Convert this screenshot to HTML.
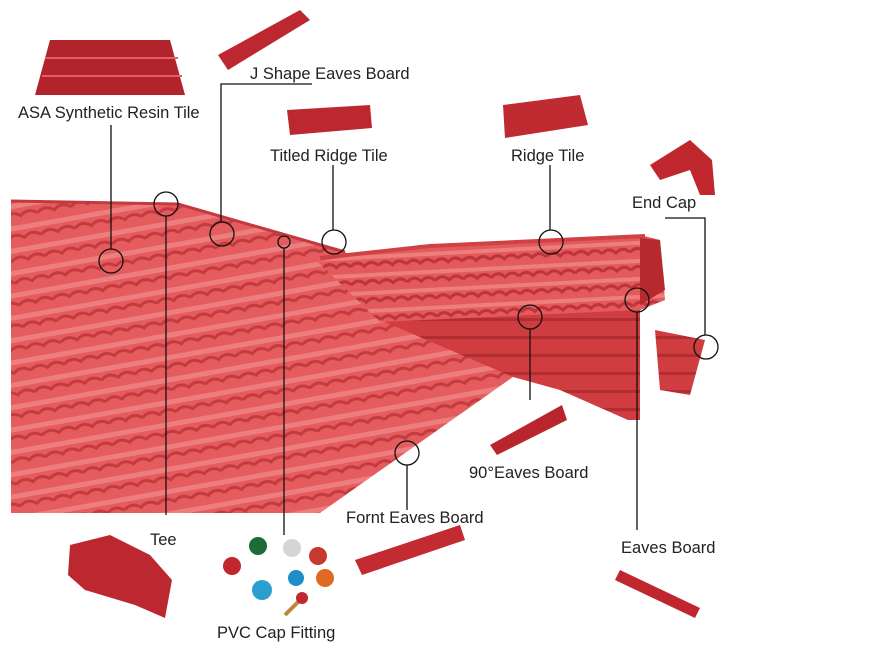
<!DOCTYPE html>
<html><head><meta charset="utf-8"><style>
html,body{margin:0;padding:0;background:#fff;width:884px;height:654px;overflow:hidden}
svg{display:block}
text{font-family:"Liberation Sans",sans-serif;font-size:16.5px;fill:#222}
</style></head><body>
<svg width="884" height="654" viewBox="0 0 884 654" xmlns="http://www.w3.org/2000/svg">
<defs>
<pattern id="tl" width="34" height="22" patternUnits="userSpaceOnUse" patternTransform="rotate(-10)">
<rect width="34" height="22" fill="#e55c5e"/>
<path d="M0 18 Q8 11 17 18 Q25 11 34 18" stroke="#c43a3f" stroke-width="3" fill="none"/>
<rect x="0" y="5" width="34" height="5" fill="#f29a9a" opacity=".55"/>
</pattern>
<pattern id="tr" width="28" height="18" patternUnits="userSpaceOnUse" patternTransform="rotate(-3)">
<rect width="28" height="18" fill="#e45a5c"/>
<path d="M0 15 Q7 8 14 15 Q21 8 28 15" stroke="#bd343a" stroke-width="3" fill="none"/>
<rect x="0" y="4" width="28" height="4" fill="#f29a9a" opacity=".55"/>
</pattern>
<pattern id="td" width="30" height="18" patternUnits="userSpaceOnUse">
<rect width="30" height="18" fill="#cf3d40"/>
<rect x="0" y="12" width="30" height="3" fill="#b02e33"/>
</pattern>
</defs>
<polygon points="11,201 178,204 345,252 513,377 320,513 11,513" fill="url(#tl)"/>
<polygon points="380,320 640,305 640,420 628,420 560,390 513,377" fill="url(#td)"/>
<polygon points="655,330 705,340 690,395 660,390" fill="url(#td)"/>
<polygon points="318,262 420,245 640,235 660,240 665,300 640,310 380,322" fill="url(#tr)"/>
<polygon points="640,238 660,240 665,290 640,305" fill="#b5292f"/>
<polyline points="11,201 178,204 345,252" stroke="#c23a3f" stroke-width="3" fill="none"/>
<polyline points="320,258 430,246 645,236" stroke="#cf4145" stroke-width="4" fill="none"/>

<polygon points="50,40 170,40 185,95 35,95" fill="#b3232c"/>
<g stroke="#e06066" stroke-width="2"><line x1="45" y1="58" x2="178" y2="58"/><line x1="42" y1="76" x2="182" y2="76"/></g>
<polygon points="218,55 300,10 310,20 228,70" fill="#bd2730"/>
<polygon points="287,110 370,105 372,128 290,135" fill="#bd2730"/>
<polygon points="503,105 580,95 588,125 505,138" fill="#c02a31"/>
<polygon points="650,165 690,140 712,160 715,195 700,195 690,170 660,180" fill="#c0262e"/>
<polygon points="490,445 562,405 567,420 497,455" fill="#b8252d"/>
<polygon points="355,560 460,525 465,540 362,575" fill="#c32b33"/>
<polygon points="620,570 700,608 695,618 615,580" fill="#c0262e"/>
<polygon points="70,545 110,535 150,555 172,580 165,618 135,605 85,590 68,575" fill="#bd2730"/>
<g>
<circle cx="232" cy="566" r="9" fill="#c0272e"/><circle cx="258" cy="546" r="9" fill="#1e6b3a"/>
<circle cx="292" cy="548" r="9" fill="#d5d5d5"/><circle cx="318" cy="556" r="9" fill="#c63a2e"/>
<circle cx="325" cy="578" r="9" fill="#e06a22"/><circle cx="262" cy="590" r="10" fill="#2a9fcf"/>
<circle cx="296" cy="578" r="8" fill="#1d8fc6"/><line x1="300" y1="600" x2="285" y2="615" stroke="#b88b3a" stroke-width="4"/>
<circle cx="302" cy="598" r="6" fill="#c0272e"/>
</g>

<g stroke="#111" stroke-width="1.3" fill="none">
<polyline points="111,125 111,249"/><circle cx="111" cy="261" r="12"/>
<polyline points="312,84 221,84 221,222"/><circle cx="222" cy="234" r="12"/>
<polyline points="333,165 333,230"/><circle cx="334" cy="242" r="12"/>
<polyline points="550,165 550,230"/><circle cx="551" cy="242" r="12"/>
<polyline points="665,218 705,218 705,335"/><circle cx="706" cy="347" r="12"/>
<circle cx="166" cy="204" r="12"/><polyline points="166,216 166,515"/>
<circle cx="284" cy="242" r="6"/><polyline points="284,248 284,535"/>
<circle cx="407" cy="453" r="12"/><polyline points="407,465 407,510"/>
<circle cx="530" cy="317" r="12"/><polyline points="530,329 530,400"/>
<circle cx="637" cy="300" r="12"/><polyline points="637,312 637,530"/>
</g>

<text x="18" y="118">ASA Synthetic Resin Tile</text>
<text x="250" y="79">J Shape Eaves Board</text>
<text x="270" y="161">Titled Ridge Tile</text>
<text x="511" y="161">Ridge Tile</text>
<text x="632" y="208">End Cap</text>
<text x="150" y="545">Tee</text>
<text x="217" y="638">PVC Cap Fitting</text>
<text x="346" y="523">Fornt Eaves Board</text>
<text x="469" y="478">90°Eaves Board</text>
<text x="621" y="553">Eaves Board</text>
</svg>
</body></html>
